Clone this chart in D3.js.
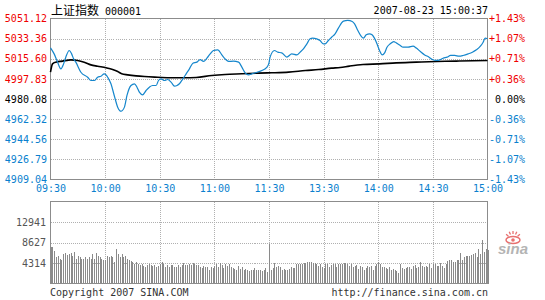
<!DOCTYPE html>
<html>
<head>
<meta charset="utf-8">
<script src="https://cdn.jsdelivr.net/npm/d3@7/dist/d3.min.js"></script>
<style>
  body { margin: 0; background: #fff; }
  text { font-family: "DejaVu Sans Mono", monospace; font-size: 10px; }
</style>
</head>
<body>
<svg id="chart" width="545" height="300"></svg>
<script>
// 上证指数 000001, 2007-08-23 分时
const prevClose = 4980.08
const priceTicks = [5051.12, 5033.36, 5015.60, 4997.83, 4980.08, 4962.32, 4944.56, 4926.79, 4909.04]
const pctTicks = ['+1.43%', '+1.07%', '+0.71%', '+0.36%', '0.00%', '-0.36%', '-0.71%', '-1.07%', '-1.43%']
const timeTicks = [0, 30, 60, 90, 120, 150, 180, 210, 240]
const timeLabels = ['09:30', '10:00', '10:30', '11:00', '11:30', '13:30', '14:00', '14:30', '15:00']
const volTicks = [4314, 8627, 12941]

// minutes from open (trading time) -> index
const priceMinutes = [0, 2.0, 3.9, 5.7, 7.2, 8.4, 10.3, 11.6, 12.7, 13.9, 16.7, 20.4, 22.2, 24.0, 25.9, 27.7, 29.5, 30.5, 31.4, 33.2,
  35.0, 36.9, 38.7, 40.6, 42.0, 44.2, 46.1, 47.5, 48.8, 50.6, 52.5, 54.3, 56.1, 58.0, 59.3, 60.7, 62.6, 64.4, 66.2, 68.1,
  69.5, 70.8, 72.7, 74.5, 76.3, 78.2, 80.4, 82.2, 84.0, 85.9, 87.7, 89.5, 91.9, 94.1, 95.9, 97.8, 100.4, 103.3, 105.1, 106.9,
  108.8, 110.6, 113.4, 116.1, 118.9, 120.0, 120.6, 123.0, 124.8, 127.0, 129.8, 132.5, 135.3, 137.1, 138.9, 140.8, 142.6, 143.9, 146.2, 148.0,
  149.9, 150.8, 152.6, 154.4, 156.3, 158.1, 160.9, 163.3, 165.7, 167.0, 168.8, 170.6, 171.9, 173.4, 175.2, 176.6, 177.9, 179.3, 180.7, 182.2,
  183.5, 184.8, 186.6, 188.5, 189.9, 192.1, 193.6, 196.4, 199.1, 200.9, 203.1, 205.5, 207.9, 209.7, 211.9, 213.8, 215.6, 217.8, 219.7, 222.0,
  224.4, 226.6, 229.4, 231.7, 233.9, 236.1, 237.6, 238.7, 240]
const priceValues = [5025.2, 5019.9, 5012.6, 5006.7, 5011.1, 5017.0, 5022.9, 5019.9, 5015.5, 5012.6, 5003.7, 4999.3, 4996.4, 4996.4, 4999.3, 5000.2, 5002.3, 5001.4, 4999.3, 4993.5,
  4983.2, 4972.9, 4969.3, 4972.9, 4983.2, 4992.0, 4993.5, 4990.5, 4986.1, 4983.8, 4987.6, 4990.5, 4992.0, 4992.0, 4996.4, 4997.9, 4996.4, 4997.3, 4995.0, 4991.4,
  4992.0, 4993.5, 4997.9, 5002.3, 5006.7, 5011.7, 5012.6, 5014.9, 5013.2, 5016.1, 5019.9, 5022.9, 5023.5, 5019.0, 5015.5, 5013.2, 5013.5, 5012.6, 5008.2, 5003.2,
  5001.4, 5002.3, 5003.7, 5005.2, 5008.2, 5012.0, 5017.0, 5022.9, 5021.4, 5020.8, 5017.0, 5019.9, 5019.0, 5021.4, 5024.3, 5028.8, 5033.2, 5033.8, 5033.2, 5031.7,
  5028.8, 5028.8, 5031.7, 5034.6, 5037.6, 5042.6, 5048.8, 5049.4, 5048.5, 5046.4, 5040.5, 5035.5, 5033.8, 5036.7, 5037.6, 5036.7, 5033.8, 5028.8, 5022.9, 5019.0,
  5020.8, 5025.8, 5028.8, 5030.8, 5029.6, 5027.3, 5025.8, 5025.8, 5026.7, 5025.0, 5022.0, 5019.0, 5017.0, 5014.9, 5014.1, 5014.6, 5016.1, 5017.0, 5018.5, 5018.5,
  5017.9, 5018.5, 5019.9, 5021.4, 5023.5, 5026.7, 5030.2, 5033.8, 5033.2]

const avgMinutes = [0, 1.1, 2.9, 6.6, 11.2, 14.9, 18.5, 22.2, 25.9, 30.5, 34.1, 36.9, 39.1, 42.4, 47.0, 51.6, 58.9, 66.2, 73.6, 80.0,
  88.6, 95.9, 105.1, 114.3, 121.6, 130.8, 140.0, 147.3, 154.4, 159.1, 164.2, 171.6, 180.7, 189.9, 200.9, 211.9, 222.9, 240]
const avgValues = [5003.7, 5011.1, 5012.6, 5013.5, 5014.6, 5014.1, 5012.6, 5010.2, 5009.0, 5007.6, 5006.1, 5004.3, 5002.3, 5001.4, 5000.5, 4999.9, 4999.3, 4998.8, 4998.8, 4999.1,
  5000.8, 5001.7, 5002.3, 5002.9, 5003.2, 5003.8, 5005.2, 5006.1, 5007.3, 5007.9, 5009.1, 5010.5, 5011.1, 5012.0, 5012.6, 5013.2, 5013.5, 5014.1]

// one bar per minute, 09:30 .. 15:00
const volumes = [
  7780, 7640, 6940, 5680, 5890, 5190, 4980, 6240, 6380, 6100,
  6240, 6380, 5890, 6590, 5190, 5890, 5680, 5190, 5190, 5680,
  5190, 5540, 5190, 6240, 5190, 6380, 5890, 5540, 5190, 4840,
  4840, 5890, 5540, 5890, 5540, 4490, 7290, 6240, 5680, 6240,
  5680, 5890, 5190, 4840, 4700, 4490, 4140, 4490, 4140, 3790,
  4140, 3580, 3440, 3790, 4140, 3790, 3580, 3790, 3440, 3580,
  4140, 4490, 4140, 3440, 3790, 3440, 3790, 3790, 3440, 3440,
  3790, 3440, 3790, 4280, 3790, 3790, 4140, 3790, 4280, 4140,
  3930, 3790, 3440, 3230, 3580, 3440, 3440, 2880, 3440, 3300,
  3580, 4140, 3440, 4280, 3790, 3300, 4000, 3580, 4140, 3440,
  3300, 3090, 2880, 3580, 3090, 3440, 2880, 3090, 2880, 2600,
  2880, 2880, 3300, 2880, 2880, 2740, 2600, 2880, 3300, 2380,
  8210,
  2880, 3300, 4280, 3440, 3580, 3440, 2880, 3090, 2880, 2880,
  3090, 3440, 3300, 3300, 4000, 4000, 4000, 4000, 4280, 4350,
  4490, 4490, 4490, 4280, 4350, 4000, 3580, 4000, 3440, 3300,
  4000, 4000, 3440, 3790, 4000, 4140, 3440, 4000, 4140,
  4140, 4350, 4280, 4000, 3580, 4000, 3440, 3580, 3930, 3090,
  3580, 3440, 2880, 3300, 3580, 3440, 3580, 2740, 3580, 4140,
  4490, 4140, 3440, 3440, 3300, 3090, 3440, 2880, 3090, 2880,
  2600, 2170, 4140, 3300, 3090, 3300, 3440, 3440, 3090, 3580,
  3790, 3300, 3440, 4490, 3580, 3440, 3580, 3440, 4140, 3300,
  4000, 4140, 3580, 3580, 4280, 3580, 3300, 4140, 4700, 4840,
  4840, 4490, 4490, 4840, 4980, 6380, 4980, 5540, 5890, 5890,
  5890, 6100, 6240, 6380, 5680, 7290, 6240, 9050, 6590, 7290, 7080
]

const red = '#f00000'
const blue = '#0a7fce'
const labelColor = i => i < 4 ? red : i === 4 ? '#000' : blue

const svg = d3.select('#chart')
const plotLeft = 50.5, plotRight = 487.5
const plotTop = 18.5, plotBottom = 179.5
const vTop = 201.5, vBottom = 283.5

const x = d3.scaleLinear().domain([0, 240]).range([plotLeft, plotRight])
const y = d3.scaleLinear().domain([4909.04, 5051.12]).range([plotBottom, plotTop])
const yVol = d3.scaleLinear().domain([0, 17255]).range([vBottom, vTop])

// 标题
const title = svg.append('text').attr('x', 51).attr('y', 15)
title.append('tspan').style('font-family', '"Noto Sans CJK SC"').style('font-size', '12px').text('上证指数')
title.append('tspan').attr('dx', 6).text('000001')
svg.append('text').attr('x', 488).attr('y', 14).attr('text-anchor', 'end').text('2007-08-23 15:00:37')

// grid
const grid = svg.append('g')
  .attr('fill', 'none').attr('stroke', '#b0b0b0').attr('stroke-dasharray', '1,1')
  .attr('shape-rendering', 'crispEdges')
grid.selectAll('.gh').data(priceTicks.slice(1, -1)).enter().append('line')
  .attr('x1', plotLeft).attr('x2', plotRight)
  .attr('y1', d => Math.round(y(d)) + 0.5).attr('y2', d => Math.round(y(d)) + 0.5)
grid.selectAll('.gv').data(timeTicks.slice(1, -1)).enter().append('line')
  .attr('x1', d => Math.round(x(d)) + 0.5).attr('x2', d => Math.round(x(d)) + 0.5)
  .attr('y1', plotTop).attr('y2', plotBottom)
grid.selectAll('.vh').data(volTicks).enter().append('line')
  .attr('x1', plotLeft).attr('x2', plotRight)
  .attr('y1', d => Math.round(yVol(d)) + 0.5).attr('y2', d => Math.round(yVol(d)) + 0.5)
grid.selectAll('.vv').data(timeTicks.slice(1, -1)).enter().append('line')
  .attr('x1', d => Math.round(x(d)) + 0.5).attr('x2', d => Math.round(x(d)) + 0.5)
  .attr('y1', vTop).attr('y2', vBottom)

// 成交量
svg.append('g').attr('stroke', '#8a8a8a').attr('shape-rendering', 'crispEdges')
  .selectAll('line').data(volumes).enter().append('line')
  .attr('x1', (d, i) => Math.round(x(i)) + 0.5).attr('x2', (d, i) => Math.round(x(i)) + 0.5)
  .attr('y1', d => yVol(d)).attr('y2', vBottom)

// frames
svg.append('rect').attr('x', plotLeft).attr('y', plotTop).attr('width', plotRight - plotLeft).attr('height', plotBottom - plotTop)
  .attr('fill', 'none').attr('stroke', '#8c8c8c').attr('shape-rendering', 'crispEdges')
svg.append('rect').attr('x', plotLeft).attr('y', vTop).attr('width', plotRight - plotLeft).attr('height', vBottom - vTop)
  .attr('fill', 'none').attr('stroke', '#8c8c8c').attr('shape-rendering', 'crispEdges')

// 均价线 / 价格线
svg.append('path').datum(avgMinutes)
  .attr('fill', 'none').attr('stroke', '#000').attr('stroke-width', 1.6)
  .attr('d', d3.line().x(d => x(d)).y((d, i) => y(avgValues[i])).curve(d3.curveMonotoneX))
svg.append('path').datum(priceMinutes)
  .attr('fill', 'none').attr('stroke', '#1586cc').attr('stroke-width', 1.2)
  .attr('d', d3.line().x(d => x(d)).y((d, i) => y(priceValues[i])).curve(d3.curveMonotoneX))

// axes labels
const leftAxis = svg.append('g').attr('transform', 'translate(47,0)')
  .call(d3.axisLeft(y).tickValues(priceTicks).tickSize(0).tickPadding(0).tickFormat(d3.format('.2f')))
leftAxis.select('.domain').remove()
leftAxis.selectAll('text').attr('fill', (d, i) => labelColor(i))
  .style('font-family', '"DejaVu Sans Mono", monospace').style('font-size', '10px')

const pctScale = d3.scalePoint().domain(pctTicks).range([y(priceTicks[0]), y(priceTicks[8])])
const rightAxis = svg.append('g').attr('transform', 'translate(489,0)')
  .call(d3.axisRight(pctScale).tickSize(0).tickPadding(0))
rightAxis.select('.domain').remove()
rightAxis.selectAll('text').attr('fill', (d, i) => labelColor(i))
  .attr('text-anchor', 'end').attr('x', 36)
  .style('font-family', '"DejaVu Sans Mono", monospace').style('font-size', '10px')

const timeAxis = svg.append('g').attr('transform', 'translate(0,185)')
  .call(d3.axisBottom(x).tickValues(timeTicks).tickSize(0).tickPadding(0).tickFormat((d, i) => timeLabels[i]))
timeAxis.select('.domain').remove()
timeAxis.selectAll('text').attr('fill', blue)
  .style('font-family', '"DejaVu Sans Mono", monospace').style('font-size', '10px')

const volAxis = svg.append('g').attr('transform', 'translate(46,0)')
  .call(d3.axisLeft(yVol).tickValues(volTicks).tickSize(0).tickPadding(0).tickFormat(d3.format('d')))
volAxis.select('.domain').remove()
volAxis.selectAll('text').attr('fill', '#555')
  .style('font-family', '"DejaVu Sans Mono", monospace').style('font-size', '10px')

// footer
svg.append('text').attr('x', 50).attr('y', 296).attr('fill', '#333').text('Copyright 2007 SINA.COM')
svg.append('text').attr('x', 488).attr('y', 296).attr('fill', '#333').attr('text-anchor', 'end')
  .text('http://finance.sina.com.cn')

// sina logo
const logo = svg.append('g').attr('transform', 'translate(513,240)')
logo.append('ellipse').attr('rx', 7).attr('ry', 3.5).attr('fill', 'none').attr('stroke', '#e87070').attr('stroke-width', 1.5)
logo.append('circle').attr('r', 1.8).attr('fill', '#e87070')
logo.selectAll('.ray').data([-50, -25, 0, 25, 50]).enter().append('line')
  .attr('x1', d => Math.sin(d * Math.PI / 180) * 6).attr('y1', d => -Math.cos(d * Math.PI / 180) * 6)
  .attr('x2', d => Math.sin(d * Math.PI / 180) * 9).attr('y2', d => -Math.cos(d * Math.PI / 180) * 9)
  .attr('stroke', '#e87070').attr('stroke-width', 1.3)
svg.append('text').attr('x', 498).attr('y', 254)
  .style('font-family', '"Liberation Sans", sans-serif').style('font-size', '15px')
  .style('font-style', 'italic').style('font-weight', 'bold').attr('fill', '#b4b4b4').text('sina')
</script>
</body>
</html>
